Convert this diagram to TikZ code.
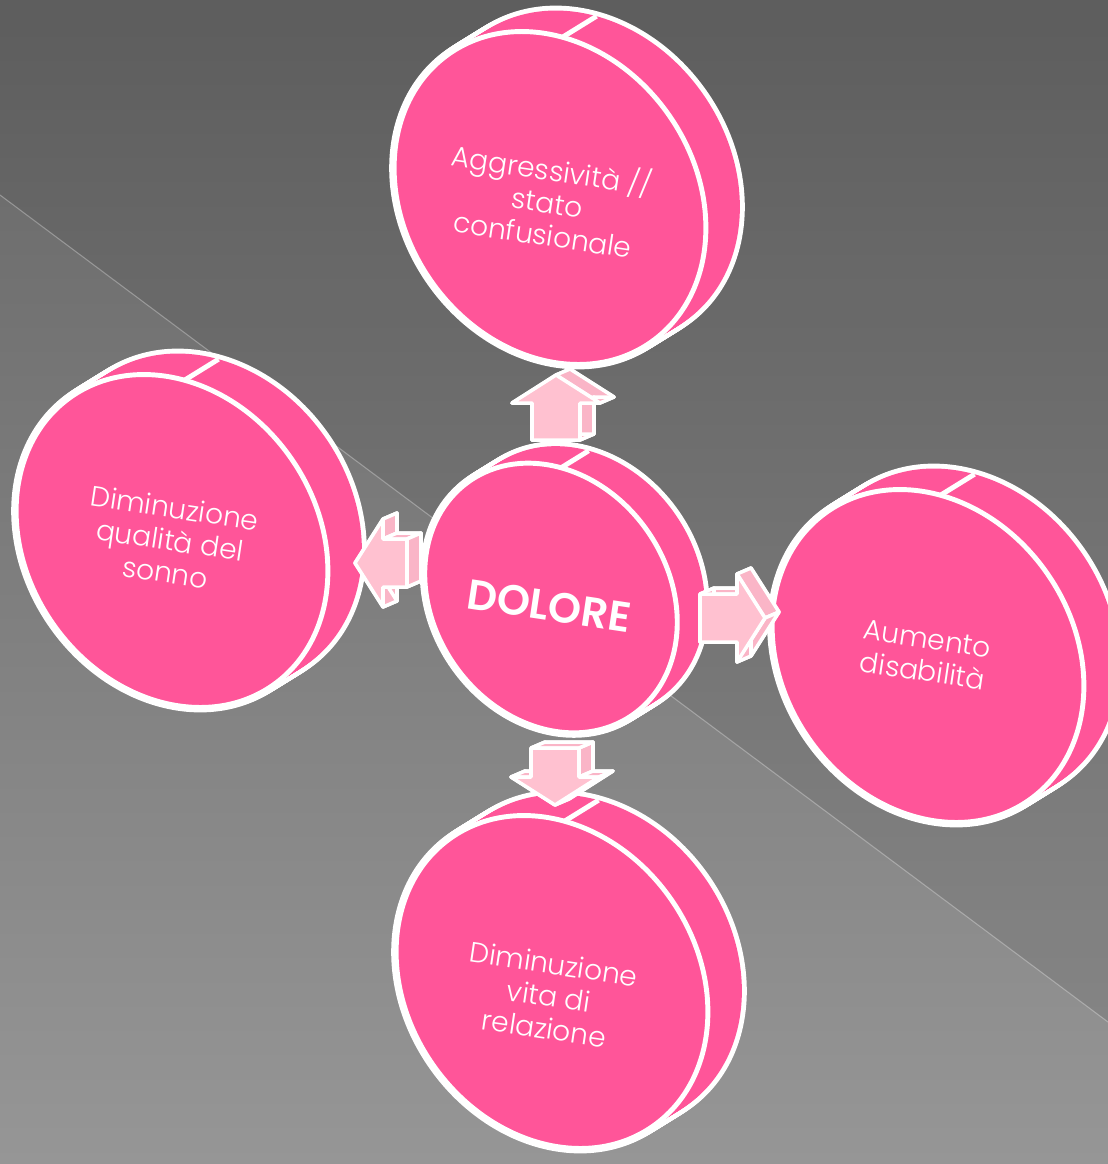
\documentclass[tikz,border=0pt]{standalone}
\usepackage{fontspec}
\setmainfont{Poppins}[UprightFont=* Light, BoldFont=* SemiBold]
\usetikzlibrary{calc}
\definecolor{discpink}{HTML}{FF5599}
\definecolor{arrowpink}{HTML}{FFC1D0}
\definecolor{arrowshade}{HTML}{FAB5C7}
\definecolor{bgtop}{HTML}{666666}
\definecolor{bgbottom}{HTML}{969696}

\tikzset{
	discrim/.style={draw=white, line width=5.6pt},
	discface/.style={fill=discpink, draw=white, line width=2.8pt},
	seam/.style={draw=white, line width=2.8pt},
	arrowface/.style={fill=arrowpink, draw=white, line width=2pt, line join=round},
	arrowside/.style={fill=arrowshade, draw=white, line width=2pt, line join=round},
	disctext/.style={text=white, align=center, rotate=-8.5, font=\fontsize{16}{18.5}\selectfont},
	paintext/.style={text=white, rotate=-8.5, font=\bfseries\fontsize{24}{26}\selectfont}
}

% disc: centre x, centre y, scale
\newcommand{\pinkdisc}[3]{%
	\foreach \k in {0,...,20}{
		\begin{scope}[shift={({#1+\k*1.7*#3},{#2-\k*1.05*#3})}, rotate=35]
			\draw[discrim] (0,0) ellipse [x radius=145*#3, y radius=176*#3];
		\end{scope}}
	\foreach \k in {0,...,20}{
		\begin{scope}[shift={({#1+\k*1.7*#3},{#2-\k*1.05*#3})}, rotate=35]
			\fill[discpink] (0,0) ellipse [x radius=145*#3, y radius=176*#3];
		\end{scope}}
	\draw[seam] ({#1+12.5*#3},{#2-160.8*#3}) -- ++({34*#3},{-21*#3});
	\begin{scope}[shift={(#1,#2)}, rotate=35]
		\draw[discface] (0,0) ellipse [x radius=145*#3, y radius=176*#3];
	\end{scope}
}

% block arrow: tail x, tail y, direction, length
\newcommand{\blockarrow}[4]{%
	\begin{scope}[shift={(#1,#2)}, rotate=#3]
		\coordinate (f1) at (0,-24);
		\coordinate (f2) at (#4-28,-24);
		\coordinate (f3) at (#4-28,-44);
		\coordinate (f4) at (#4,0);
		\coordinate (f5) at (#4-28,44);
		\coordinate (f6) at (#4-28,24);
		\coordinate (f7) at (0,24);
	\end{scope}
	\begin{scope}[shift={(#1+14,#2-6)}, rotate=#3]
		\coordinate (b1) at (0,-24);
		\coordinate (b2) at (#4-28,-24);
		\coordinate (b3) at (#4-28,-44);
		\coordinate (b4) at (#4,0);
		\coordinate (b5) at (#4-28,44);
		\coordinate (b6) at (#4-28,24);
		\coordinate (b7) at (0,24);
	\end{scope}
	\draw[arrowside] (b1) -- (b2) -- (b3) -- (b4) -- (b5) -- (b6) -- (b7) -- cycle;
	\foreach \i/\j in {1/2,2/3,3/4,4/5,5/6,6/7,7/1}
		\draw[arrowside] (f\i) -- (f\j) -- (b\j) -- (b\i) -- cycle;
	\draw[arrowface] (f1) -- (f2) -- (f3) -- (f4) -- (f5) -- (f6) -- (f7) -- cycle;
}

\begin{document}
\begin{tikzpicture}[x=0.02cm, y=-0.02cm]
	\useasboundingbox (0,0) rectangle (1108,1164);
	
	%%%%% background %%%%%
	\shade[top color=bgtop, bottom color=bgbottom] (0,0) rectangle (1108,1164);
	\fill[black, opacity=0.08] (0,0) -- (0,195) -- (1108,1022) -- (1108,0) -- cycle;
	\draw[white, opacity=0.3, line width=0.6pt] (0,195) -- (1108,1022);
	
	%%%%% discs %%%%%
	\pinkdisc{550}{198}{1}
	\pinkdisc{172}{541}{1}
	\pinkdisc{928}{656}{1}
	\pinkdisc{552}{982}{1}
	\pinkdisc{551}{598}{0.81}
	
	\node[disctext] (aggr) at (548,200) {Aggressività //\\stato\\confusionale};
	\node[disctext] (sleep) at (170,540) {Diminuzione\\qualità del\\sonno};
	\node[disctext] (disab) at (925,655) {Aumento\\disabilità};
	\node[disctext] (relat) at (549,996) {Diminuzione\\vita di\\relazione};
	\node[paintext] (pain) at (549,606) {DOLORE};
	
	%%%%% arrows %%%%%
	\blockarrow{556}{440}{90}{65}
	\blockarrow{407}{563}{180}{52}
	\blockarrow{700}{618}{0}{65}
	\blockarrow{555}{748}{-90}{57}
\end{tikzpicture}
\end{document}
